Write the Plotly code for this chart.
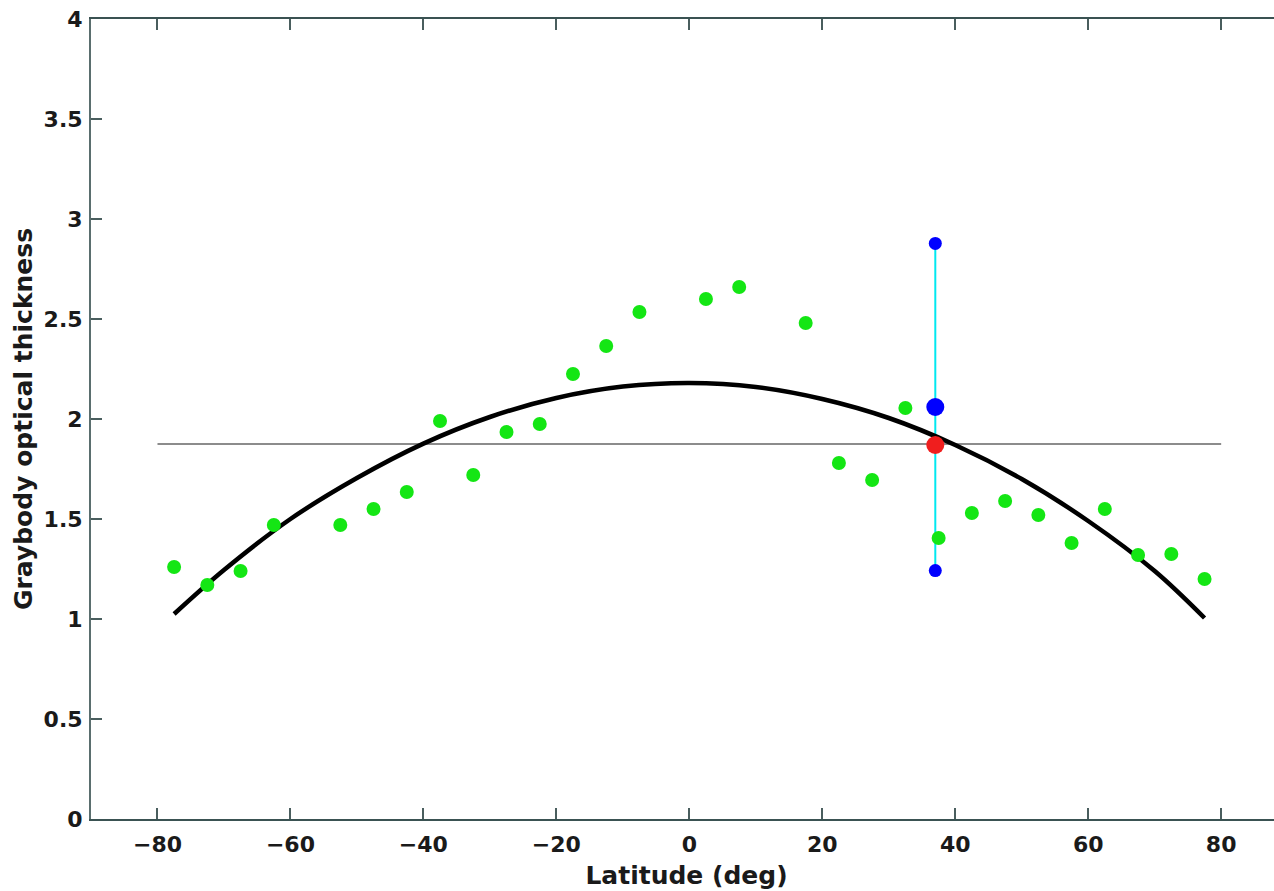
import plotly.graph_objects as go

# Zonal graybody optical thickness (green dots)
lat = [-77.5, -72.5, -67.5, -62.5, -52.5, -47.5, -42.5, -37.5, -32.5, -27.5,
       -22.5, -17.5, -12.5, -7.5, 2.5, 7.5, 17.5, 22.5, 27.5, 32.5,
       37.5, 42.5, 47.5, 52.5, 57.5, 62.5, 67.5, 72.5, 77.5]
tau = [1.26, 1.17, 1.24, 1.47, 1.47, 1.55, 1.635, 1.99, 1.72, 1.935,
       1.975, 2.225, 2.365, 2.535, 2.60, 2.66, 2.48, 1.78, 1.695, 2.055,
       1.405, 1.53, 1.59, 1.52, 1.38, 1.55, 1.32, 1.325, 1.20]

# Fitted curve (black)
fit_lat = [-77.5, -70, -60, -50, -40, -30, -20, -10, 0, 10, 20, 30, 40, 50, 60, 70, 77.5]
fit_tau = [1.025, 1.245, 1.50, 1.705, 1.877, 2.01, 2.105, 2.162, 2.18, 2.16, 2.10, 2.005, 1.87, 1.70, 1.49, 1.24, 1.005]

# Global mean (gray horizontal line)
mean_lat = [-80, 80]
mean_tau = [1.875, 1.875]

# Vertical range at 37 deg (cyan) with blue markers, red mean marker
bar_lat = [37, 37]
bar_tau = [2.878, 1.242]
blue_big_lat = [37]
blue_big_tau = [2.06]
red_lat = [37]
red_tau = [1.87]

fig = go.Figure()
fig.add_trace(go.Scatter(x=mean_lat, y=mean_tau, mode="lines",
                         line=dict(color="#8c8c8c", width=2), showlegend=False))
fig.add_trace(go.Scatter(x=bar_lat, y=bar_tau, mode="lines",
                         line=dict(color="#00e8f0", width=2), showlegend=False))
fig.add_trace(go.Scatter(x=fit_lat, y=fit_tau, mode="lines",
                         line=dict(color="black", width=4.5, shape="spline", smoothing=1.0),
                         showlegend=False))
fig.add_trace(go.Scatter(x=lat, y=tau, mode="markers",
                         marker=dict(color="#14e614", size=14), showlegend=False))
fig.add_trace(go.Scatter(x=bar_lat, y=bar_tau, mode="markers",
                         marker=dict(color="#0000ff", size=13), showlegend=False))
fig.add_trace(go.Scatter(x=blue_big_lat, y=blue_big_tau, mode="markers",
                         marker=dict(color="#0000ff", size=18), showlegend=False))
fig.add_trace(go.Scatter(x=red_lat, y=red_tau, mode="markers",
                         marker=dict(color="#f01e1e", size=18), showlegend=False))

tickfont = dict(family="DejaVu Sans", size=22, color="#1a1a1a", weight="bold")
titlefont = dict(family="DejaVu Sans", size=25, color="#1a1a1a", weight="bold")

fig.update_layout(
    width=1282, height=891,
    margin=dict(l=91, r=0, t=19, b=72, autoexpand=False),
    paper_bgcolor="white", plot_bgcolor="white",
    xaxis=dict(range=[-90, 89.15], tickvals=[-80, -60, -40, -20, 0, 20, 40, 60, 80],
               ticktext=["\u221280", "\u221260", "\u221240", "\u221220", "0", "20", "40", "60", "80"],
               ticks="inside", ticklen=11, tickwidth=1.5, tickcolor="#4a5e5e",
               showline=True, linecolor="#3a5252", linewidth=2, mirror="ticks",
               showgrid=False, zeroline=False, tickfont=tickfont, automargin=False,
               ticklabelstandoff=5,
               title=dict(text="Latitude (deg)", font=titlefont, standoff=10)),
    yaxis=dict(range=[0, 4], tickvals=[0, 0.5, 1, 1.5, 2, 2.5, 3, 3.5, 4],
               ticktext=["0", "0.5", "1", "1.5", "2", "2.5", "3", "3.5", "4"],
               ticks="inside", ticklen=11, tickwidth=1.5, tickcolor="#4a5e5e",
               showline=True, linecolor="#5a6e6e", linewidth=2, mirror=False,
               showgrid=False, zeroline=False, tickfont=tickfont, automargin=False,
               ticklabelstandoff=2,
               title=dict(text="Graybody optical thickness", font=titlefont, standoff=4)),
)

fig.write_html("out.html", config={"displayModeBar": False},
               post_script="document.body.style.margin='0';document.body.style.overflow='hidden';")
